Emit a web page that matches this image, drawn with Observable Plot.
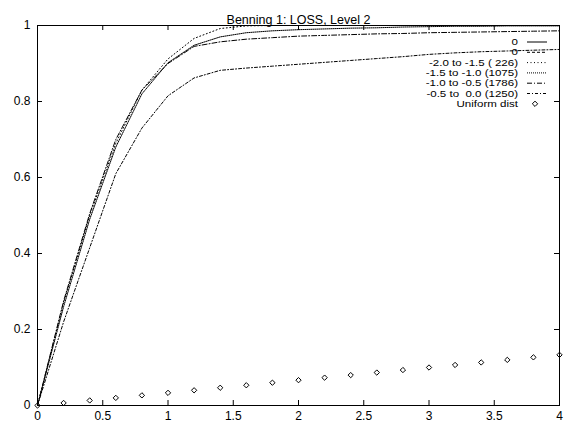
<!DOCTYPE html>
<html><head><meta charset="utf-8">
<script src="https://cdn.jsdelivr.net/npm/d3@7"></script>
<script src="https://cdn.jsdelivr.net/npm/@observablehq/plot@0.6"></script>
<style>body{margin:0;background:#fff} svg{font-family:"Liberation Sans",Arial,sans-serif}</style>
</head><body><div id="chart"></div>
<script>
const title = "Benning 1: LOSS, Level 2";
const xs = [0,0.2,0.4,0.6,0.8,1.0,1.2,1.4,1.6,1.8,2.0,2.2,2.4,2.6,2.8,3.0,3.2,3.4,3.6,3.8,4.0];
const zeroA = [0,0,0,0,0,0,0,0,0,0,0,0,0,0,0,0,0,0,0,0,0];
const zeroB = [0,0,0,0,0,0,0,0,0,0,0,0,0,0,0,0,0,0,0,0,0];
const s2015 = [0,0.27,0.50,0.69,0.83,0.912,0.966,0.992,0.999,1,1,1,1,1,1,1,1,1,1,1,1];
const s1510 = [0,0.26,0.49,0.68,0.82,0.902,0.948,0.970,0.981,0.986,0.989,0.991,0.993,0.994,0.996,0.997,0.998,0.998,0.999,0.999,0.999];
const s1005 = [0,0.275,0.505,0.70,0.83,0.900,0.945,0.957,0.964,0.968,0.972,0.974,0.976,0.978,0.979,0.981,0.982,0.983,0.984,0.985,0.986];
const s0500 = [0,0.22,0.415,0.61,0.73,0.815,0.862,0.882,0.888,0.893,0.898,0.903,0.908,0.913,0.918,0.924,0.928,0.931,0.933,0.935,0.937];
const uniform = [0,0.0067,0.0133,0.02,0.0267,0.0333,0.04,0.0467,0.0533,0.06,0.0667,0.0733,0.08,0.0867,0.0933,0.1,0.1067,0.1133,0.12,0.1267,0.1333];
const labels = ["0","0","-2.0 to -1.5 ( 226)","-1.5 to -1.0 (1075)","-1.0 to -0.5 (1786)","-0.5 to  0.0 (1250)","Uniform dist"];
const xTicks = [0,0.5,1,1.5,2,2.5,3,3.5,4];
const xTickLabels = ["0","0.5","1","1.5","2","2.5","3","3.5","4"];
const yTicks = [0,0.2,0.4,0.6,0.8,1];
const yTickLabels = ["0","0.2","0.4","0.6","0.8","1"];

const W = 565, H = 424, mL = 37, mR = 6, mT = 25, mB = 19;
const fw = W - mL - mR, fh = H - mT - mB;
const dashes = [null, "3,2", "1,2.5", "1,1", "5,2,1,2", "3,2,1,2"];
const seriesVals = [zeroA, zeroB, s2015, s1510, s1005, s0500];
const tbl = v => xs.map((x, i) => ({x, y: v[i]}));

const marks = [];
seriesVals.forEach((v, k) => {
  marks.push(Plot.line(tbl(v), {x: "x", y: "y", stroke: "#000", strokeWidth: 1, strokeDasharray: dashes[k] || undefined}));
});
marks.push(Plot.dot(tbl(uniform), {x: "x", y: "y", symbol: "diamond2", r: 2.4, stroke: "#000", strokeWidth: 1, fill: "none"}));
marks.push(Plot.frame({stroke: "#000", strokeWidth: 1}));
marks.push(Plot.ruleX(xTicks, {insetTop: fh - 5, stroke: "#000"}));
marks.push(Plot.ruleX(xTicks, {insetBottom: fh - 5, stroke: "#000"}));
marks.push(Plot.ruleY(yTicks, {insetRight: fw - 5, stroke: "#000"}));
marks.push(Plot.ruleY(yTicks, {insetLeft: fw - 5, stroke: "#000"}));
marks.push(Plot.axisX(xTicks, {tickSize: 0, tickPadding: 6, fontSize: 12, tickFormat: d => xTickLabels[xTicks.indexOf(d)], label: null}));
marks.push(Plot.axisY(yTicks, {tickSize: 0, tickPadding: 7, fontSize: 12, tickFormat: d => yTickLabels[yTicks.indexOf(d)], label: null}));
marks.push(Plot.text([title], {frameAnchor: "top", dy: -10, fontSize: 12.5, fill: "#000"}));

const plot = Plot.plot({
  width: W, height: H,
  marginLeft: mL, marginRight: mR, marginTop: mT, marginBottom: mB,
  style: {background: "#fff", color: "#000", fontFamily: "'Liberation Sans', Arial, sans-serif"},
  x: {domain: [0, 4]},
  y: {domain: [0, 1]},
  clip: false,
  marks
});
document.getElementById("chart").appendChild(plot);

// legend (reference glyphs are wide and short: small font stretched horizontally)
const svg = d3.select(plot);
const g = svg.append("g").attr("font-size", 9).attr("fill", "#000");
labels.forEach((lab, i) => {
  const y = mT + 17 + 10.3 * i;
  const t = g.append("text").attr("x", 518).attr("y", y).attr("dy", "0.35em").attr("text-anchor", "end")
    .style("white-space", "pre").attr("xml:space", "preserve").text(lab);
  const natural = t.node().getComputedTextLength();
  if (natural > 0) t.attr("textLength", natural * 1.28).attr("lengthAdjust", "spacingAndGlyphs");
  if (i < 6) {
    const ln = g.append("line").attr("x1", 527).attr("x2", 547).attr("y1", y).attr("y2", y)
      .attr("stroke", "#000").attr("stroke-width", 1);
    if (dashes[i]) ln.attr("stroke-dasharray", dashes[i]);
  } else {
    g.append("path").attr("transform", `translate(535,${y})`)
      .attr("d", d3.symbol(d3.symbolDiamond2, Math.PI * 2.4 * 2.4)())
      .attr("fill", "none").attr("stroke", "#000");
  }
});
</script></body></html>
